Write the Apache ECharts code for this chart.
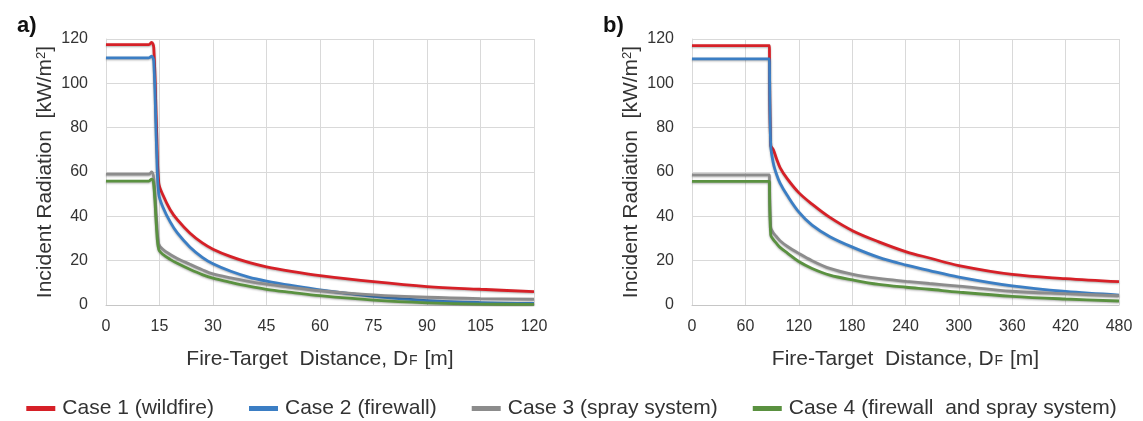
<!DOCTYPE html>
<html>
<head>
<meta charset="utf-8">
<script src="https://cdn.jsdelivr.net/npm/echarts@6/dist/echarts.min.js"></script>
<style>
  html, body { margin: 0; padding: 0; background: #fff; }
  #chart { width: 1143px; height: 421px; }
</style>
</head>
<body>
<div id="chart"></div>
<script>
// panel a) distance [m]
const distA = [0, 12, 12.8, 13.4, 14.2, 14.8, 16, 18, 20, 23.5, 27, 30, 35, 40, 45, 52, 60, 75, 90, 105, 120];
const case1A = [117.5, 117.5, 118.5, 116, 78, 55, 49.5, 43, 38.5, 32.5, 28, 25.2, 21.8, 19.2, 17.2, 15.2, 13.3, 10.5, 8.3, 7.1, 6.0];
const case2A = [111.5, 111.5, 112.3, 110, 70, 50, 44, 37.5, 32.5, 26.2, 21.5, 18.6, 15.2, 12.6, 10.8, 8.8, 6.8, 3.9, 2.0, 1.1, 0.7];
const case3A = [59, 59, 60, 57, 38, 27.5, 25, 22.8, 21, 18.4, 15.9, 14, 12.2, 10.7, 9.4, 8, 6.5, 4.6, 3.5, 2.9, 2.6];
const case4A = [55.9, 55.9, 56.8, 54, 34, 25, 22.8, 20.6, 18.8, 16.1, 13.7, 12.1, 10.2, 8.5, 7.1, 5.7, 4.2, 2.2, 1.0, 0.4, 0.3];

// panel b) distance [m]
const distB = [0, 87, 87.7, 88.5, 91.5, 95, 99, 107, 120, 135, 155, 181, 210, 241, 267, 300, 360, 420, 480];
const case1B = [117, 117, 117, 72, 70, 66, 62, 57, 50.7, 45.5, 39.5, 33.4, 28.5, 24.0, 21.2, 17.8, 13.8, 11.9, 10.5];
const case2B = [111, 111, 111, 72, 63.8, 59, 55, 49.5, 42, 36, 30.8, 26, 21.5, 18, 15.5, 12.6, 8.6, 6.1, 4.5];
const case3B = [58.7, 58.7, 58.7, 35, 32.5, 30.8, 29, 26.5, 23.3, 20, 16.5, 13.8, 12.0, 10.7, 9.7, 8.5, 6.2, 5.1, 4.2];
const case4B = [55.8, 55.8, 55.8, 31.6, 29.5, 27.8, 26, 23.5, 19.6, 16.5, 13.5, 11.3, 9.3, 8, 7.1, 5.8, 3.9, 2.7, 1.8];

const caseNames = ["Case 1 (wildfire)", "Case 2 (firewall)", "Case 3 (spray system)", "Case 4 (firewall  and spray system)"];
const colors = ["#d62027", "#3b7ec4", "#8c8c8c", "#5a9140"];

const font = "'Liberation Sans', Arial, sans-serif";
const textColor = "#333";
const gridColor = "#d9d9d9";

function pairs(xs, ys) {
  return xs.map((x, i) => [x, ys[i]]);
}

function makeSeries(idx, name, xs, ys) {
  return {
    name: name,
    type: "line",
    xAxisIndex: idx,
    yAxisIndex: idx,
    data: pairs(xs, ys),
    showSymbol: false,
    symbol: "none",
    smooth: 0.35,
    lineStyle: {
      width: 2.8,
      shadowColor: "rgba(0,0,0,0.3)",
      shadowBlur: 2,
      shadowOffsetY: 1,
    },
  };
}

function xAxisOf(idx, max, interval) {
  return {
    type: "value",
    gridIndex: idx,
    min: 0,
    max: max,
    interval: interval,
    name: "{a|Fire-Target  Distance, D}{s|F}{a| [m]}",
    nameLocation: "middle",
    nameGap: 44,
    nameTextStyle: {
      rich: {
        a: { fontSize: 21, fontFamily: font, color: textColor },
        s: { fontSize: 14, fontFamily: font, color: textColor, padding: [0, 1, -3, 1] },
      },
    },
    axisLine: { show: true, lineStyle: { color: "#c6c6c6", width: 1 } },
    axisTick: { show: false },
    axisLabel: { fontSize: 16, fontFamily: font, color: textColor, margin: 14 },
    splitLine: { show: true, lineStyle: { color: gridColor, width: 1 } },
  };
}

function yAxisOf(idx) {
  return {
    type: "value",
    gridIndex: idx,
    min: 0,
    max: 120,
    interval: 20,
    name: "{a|Incident Radiation  [kW/m}{p|2}{a|]}",
    nameLocation: "middle",
    nameGap: 50,
    nameTextStyle: {
      rich: {
        a: { fontSize: 21, fontFamily: font, color: textColor },
        p: { fontSize: 13, fontFamily: font, color: textColor, verticalAlign: "top", padding: [0, 0, 8, 0] },
      },
    },
    axisLine: { show: true, lineStyle: { color: gridColor, width: 1 } },
    axisTick: { show: false },
    axisLabel: { fontSize: 16, fontFamily: font, color: textColor, margin: 18 },
    splitLine: { show: true, lineStyle: { color: gridColor, width: 1 } },
  };
}

const chart = echarts.init(document.getElementById("chart"), null, { renderer: "canvas" });

const series = [];
[case1A, case2A, case3A, case4A].forEach((ys, i) => series.push(makeSeries(0, caseNames[i], distA, ys)));
[case1B, case2B, case3B, case4B].forEach((ys, i) => series.push(makeSeries(1, caseNames[i], distB, ys)));

const option = {
  backgroundColor: "#fff",
  animation: false,
  color: colors,
  title: [
    { text: "a)", left: 12, top: 10, textStyle: { fontSize: 22, fontWeight: "bold", fontFamily: font, color: "#111" } },
    { text: "b)", left: 598, top: 10, textStyle: { fontSize: 22, fontWeight: "bold", fontFamily: font, color: "#111" } },
  ],
  grid: [
    { left: 106, top: 39, width: 428, bottom: 116 },
    { left: 692, top: 39, width: 427, bottom: 116 },
  ],
  legend: {
    data: caseNames,
    top: 393,
    left: "center",
    icon: "rect",
    itemWidth: 29,
    itemHeight: 5,
    itemGap: 35,
    textStyle: { fontSize: 21, fontFamily: font, color: textColor, padding: [0, 0, 0, 2] },
  },
  xAxis: [xAxisOf(0, 120, 15), xAxisOf(1, 480, 60)],
  yAxis: [yAxisOf(0), yAxisOf(1)],
  series: series,
};

chart.setOption(option);
window.addEventListener("resize", function () {
  chart.resize();
});
</script>
</body>
</html>
